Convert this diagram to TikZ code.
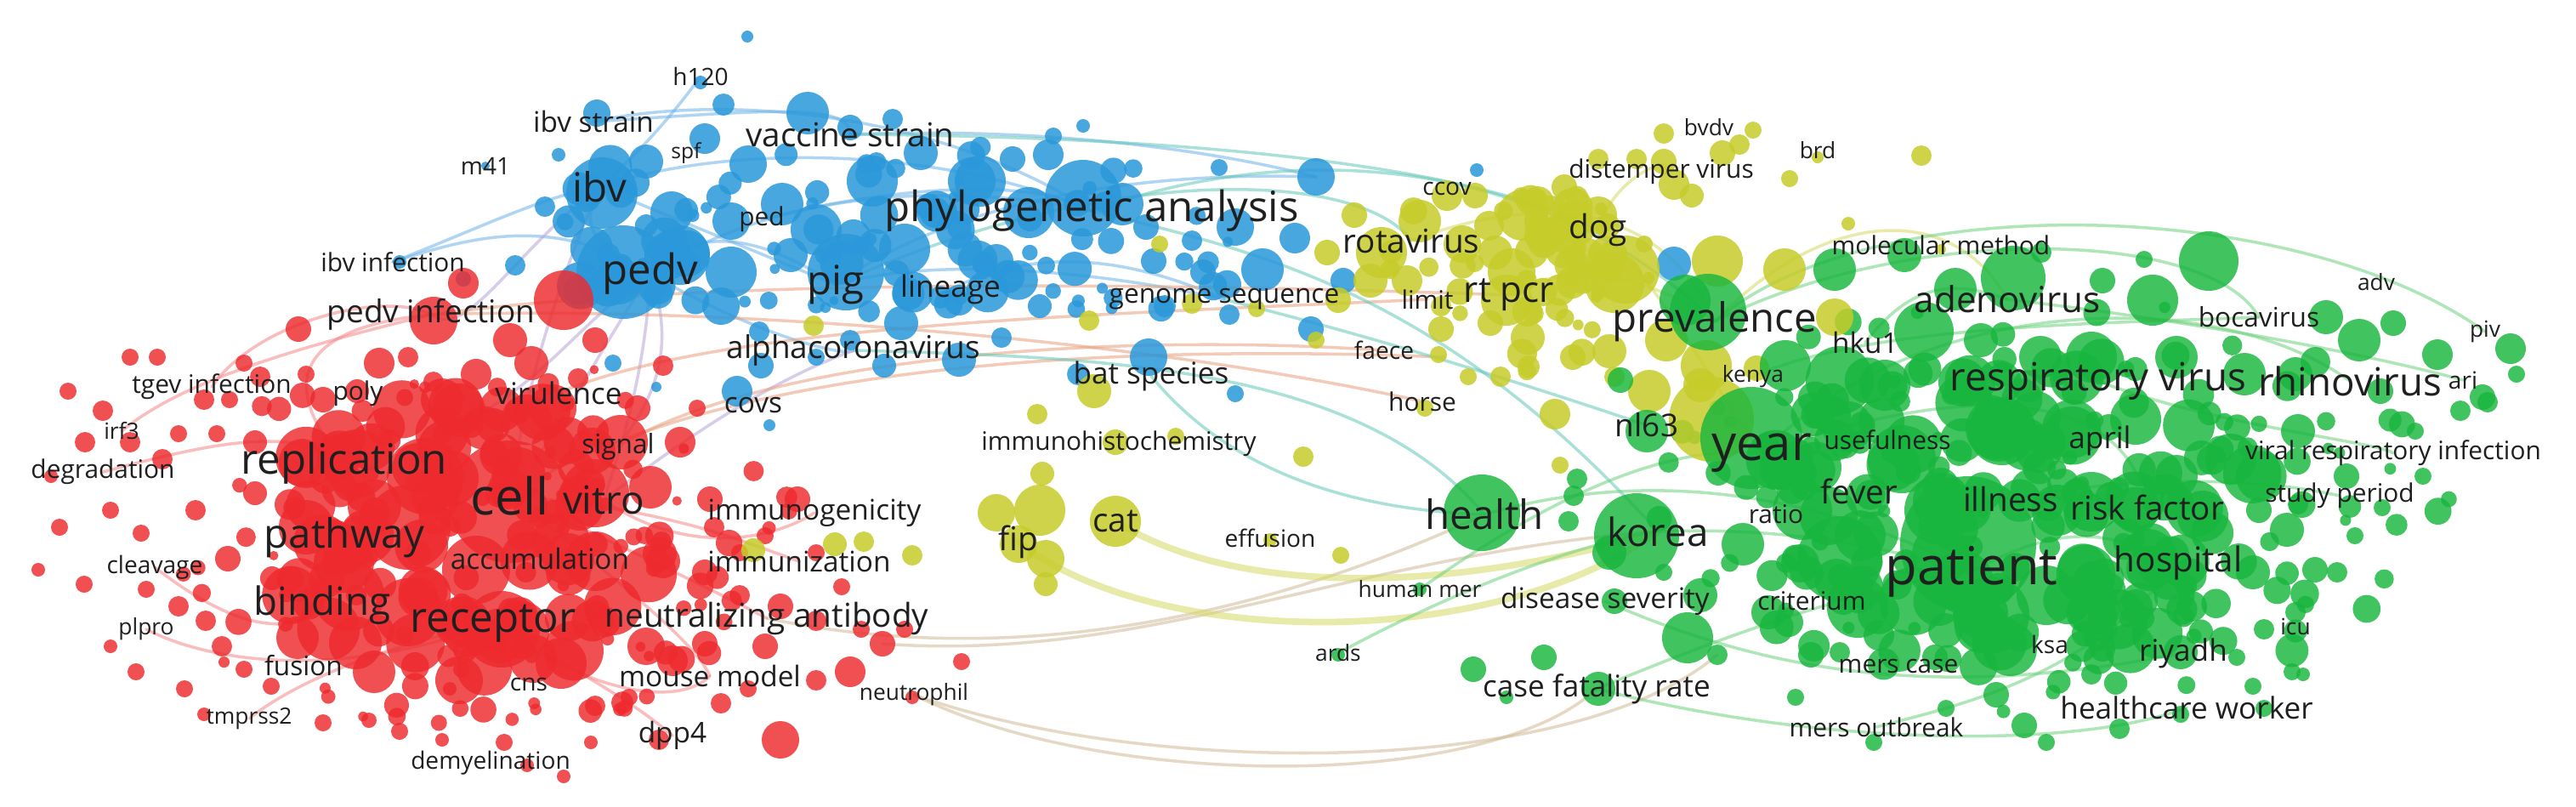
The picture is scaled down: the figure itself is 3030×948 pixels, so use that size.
\documentclass[tikz,border=0pt]{standalone}
\usepackage{fontspec}
\setmainfont{Open Sans}
\pgfdeclarelayer{bgwhite}
\pgfdeclarelayer{edges}
\pgfdeclarelayer{circles}
\pgfsetlayers{bgwhite,edges,circles,main}
\definecolor{cR}{RGB}{238,42,46}
\definecolor{cB}{RGB}{42,152,218}
\definecolor{cY}{RGB}{198,204,42}
\definecolor{cG}{RGB}{24,182,62}
\definecolor{eB}{RGB}{110,180,232}
\definecolor{eR}{RGB}{245,135,135}
\definecolor{eY}{RGB}{214,218,100}
\definecolor{eG}{RGB}{110,210,125}
\definecolor{eT}{RGB}{100,200,185}
\definecolor{eO}{RGB}{232,160,125}
\definecolor{eN}{RGB}{208,186,150}
\definecolor{eP}{RGB}{185,165,215}
\tikzset{
  lab/.style={font=\fontsize{#1}{#1}\selectfont, inner sep=0pt, text=black!88},
  rc/.style={fill=cR, fill opacity=0.82},
  bc/.style={fill=cB, fill opacity=0.85},
  yc/.style={fill=cY, fill opacity=0.85},
  gc/.style={fill=cG, fill opacity=0.82},
  edge/.style={line width=1pt, draw opacity=0.55, line cap=round},
  thick edge/.style={line width=2.2pt, draw opacity=0.55, line cap=round},
}
\newcommand\scatterfill[8]{% style, n, cx, cy, ax, ay, rmin, rspan
  \foreach \i in {1,...,#2}{
    \pgfmathsetmacro\aa{360*rnd}\pgfmathsetmacro\dd{sqrt(rnd)}
    \pgfmathsetmacro\xx{#3+#5*\dd*cos(\aa)}\pgfmathsetmacro\yy{#4+#6*\dd*sin(\aa)}
    \pgfmathsetmacro\rr{#7+#8*rnd}
    \fill[#1] (\xx,\yy) circle[radius=\rr];}}
\begin{document}
\begin{tikzpicture}[x=0.1mm,y=-0.1mm]
\useasboundingbox (0,0) rectangle (3030,948);
\begin{pgfonlayer}{bgwhite}
\fill[white] (0,0) rectangle (3030,948);
\end{pgfonlayer}

% ---------------- labels (blue cluster)
\node[lab=8]    (h120)    at (824,90)  {h120};
\node[lab=9.5]  (ibvstr)  at (698,143) {ibv strain};
\node[lab=7]    (spf)     at (807,180) {spf};
\node[lab=8]    (m41)     at (571,195) {m41};
\node[lab=13.5] (ibv)     at (705,220) {ibv};
\node[lab=11]   (vstrain) at (1000,158) {vaccine strain};
\node[lab=8.5]  (ped)     at (896,258) {ped};
\node[lab=14]   (phylo)   at (1284,248) {phylogenetic analysis};
\node[lab=8.5]  (ibvinf)  at (462,308) {ibv infection};
\node[lab=14]   (pedv)    at (765,322) {pedv};
\node[lab=13.5] (pig)     at (983,335) {pig};
\node[lab=10]   (lineage) at (1118,340) {lineage};
\node[lab=9]    (genome)  at (1440,352) {genome sequence};
\node[lab=10.5] (alpha)   at (1004,412) {alphacoronavirus};
\node[lab=9.5]  (covs)    at (886,477) {covs};
\node[lab=10]   (batsp)   at (1354,442) {bat species};
% red cluster
\node[lab=10.5] (pedvinf) at (507,370) {pedv infection};
\node[lab=8.5]  (tgev)    at (249,455) {tgev infection};
\node[lab=8.5]  (poly)    at (421,463) {poly};
\node[lab=10]   (virul)   at (657,462) {virulence};
\node[lab=7.5]  (irf3)    at (143,507) {irf3};
\node[lab=9]    (signal)  at (727,525) {signal};
\node[lab=8.5]  (degr)    at (121,555) {degradation};
\node[lab=14]   (replic)  at (405,545) {replication};
\node[lab=17]   (cell)    at (600,583) {cell};
\node[lab=13]   (vitro)   at (710,588) {vitro};
\node[lab=9.5]  (immgen)  at (958,603) {immunogenicity};
\node[lab=13.5] (pathway) at (405,632) {pathway};
\node[lab=8]    (cleav)   at (182,667) {cleavage};
\node[lab=9.5]  (accum)   at (635,657) {accumulation};
\node[lab=9.5]  (immzn)   at (940,660) {immunization};
\node[lab=13]   (binding) at (379,712) {binding};
\node[lab=7.5]  (plpro)   at (172,740) {plpro};
\node[lab=14]   (recept)  at (580,733) {receptor};
\node[lab=11]   (nab)     at (902,727) {neutralizing antibody};
\node[lab=9]    (fusion)  at (357,783) {fusion};
\node[lab=8]    (cns)     at (622,805) {cns};
\node[lab=9.5]  (mouse)   at (835,795) {mouse model};
\node[lab=7.5]  (neutro)  at (1075,817) {neutrophil};
\node[lab=7.5]  (tmprss)  at (293,845) {tmprss2};
\node[lab=9.5]  (dpp4)    at (791,865) {dpp4};
\node[lab=8]    (demy)    at (577,897) {demyelination};
% yellow cluster
\node[lab=7.5]  (bvdv)    at (2010,150) {bvdv};
\node[lab=8.5]  (distemp) at (1954,202) {distemper virus};
\node[lab=7.5]  (brd)     at (2138,177) {brd};
\node[lab=8]    (ccov)    at (1702,222) {ccov};
\node[lab=11]   (dog)     at (1880,270) {dog};
\node[lab=11]   (rota)    at (1660,283) {rotavirus};
\node[lab=8.5]  (limit)   at (1679,352) {limit};
\node[lab=12]   (rtpcr)   at (1775,347) {rt pcr};
\node[lab=8]    (faece)   at (1628,412) {faece};
\node[lab=8.5]  (horse)   at (1673,472) {horse};
\node[lab=8.5]  (ihc)     at (1316,522) {immunohistochemistry};
\node[lab=11]   (fip)     at (1198,637) {fip};
\node[lab=11]   (cat)     at (1312,613) {cat};
\node[lab=8]    (effus)   at (1494,633) {effusion};
% green cluster
\node[lab=13.5] (preval)  at (2017,378) {prevalence};
\node[lab=8.5]  (molmeth) at (2283,288) {molecular method};
\node[lab=12]   (adeno)   at (2361,352) {adenovirus};
\node[lab=9.5]  (hku1)    at (2194,403) {hku1};
\node[lab=9]    (boca)    at (2657,373) {bocavirus};
\node[lab=7.5]  (adv)     at (2795,332) {adv};
\node[lab=7.5]  (piv)     at (2923,390) {piv};
\node[lab=8]    (ari)     at (2897,447) {ari};
\node[lab=7.5]  (kenya)   at (2062,443) {kenya};
\node[lab=13]   (respvir) at (2468,448) {respiratory virus};
\node[lab=13]   (rhino)   at (2764,448) {rhinovirus};
\node[lab=10.5] (nl63)    at (1937,500) {nl63};
\node[lab=16.5] (year)    at (2072,533) {year};
\node[lab=8.5]  (useful)  at (2220,517) {usefulness};
\node[lab=10]   (april)   at (2470,518) {april};
\node[lab=8.5]  (vri)     at (2815,533) {viral respiratory infection};
\node[lab=11]   (fever)   at (2187,578) {fever};
\node[lab=11]   (illness) at (2365,587) {illness};
\node[lab=8.5]  (ratio)   at (2089,605) {ratio};
\node[lab=11]   (riskf)   at (2526,597) {risk factor};
\node[lab=8.5]  (studyp)  at (2752,583) {study period};
\node[lab=13.5] (health)  at (1746,605) {health};
\node[lab=13]   (korea)   at (1950,625) {korea};
\node[lab=17.5] (patient) at (2319,672) {patient};
\node[lab=11.5] (hosp)    at (2562,662) {hospital};
\node[lab=7.5]  (humanm)  at (1670,693) {human mer};
\node[lab=9.5]  (disease) at (1888,707) {disease severity};
\node[lab=8.5]  (criter)  at (2131,707) {criterium};
\node[lab=7.5]  (icu)     at (2700,737) {icu};
\node[lab=8]    (ksa)     at (2411,758) {ksa};
\node[lab=10]   (riyadh)  at (2568,768) {riyadh};
\node[lab=7.5]  (ards)    at (1574,768) {ards};
\node[lab=8.5]  (merscase) at (2233,783) {mers case};
\node[lab=10]   (casefat) at (1878,810) {case fatality rate};
\node[lab=10]   (hcw)     at (2572,832) {healthcare worker};
\node[lab=8.5]  (mersout) at (2207,855) {mers outbreak};

\coordinate (bR) at (1548,208);
\coordinate (oE) at (1700,420);
\coordinate (rN) at (1038,757);
\coordinate (gS) at (2020,770);

% ---------------- circles
\begin{pgfonlayer}{circles}
\pgfmathsetseed{7}
% random fillers
\scatterfill{rc}{110}{560}{640}{390}{220}{5}{11}
\scatterfill{bc}{60}{1080}{280}{430}{120}{5}{12}
\scatterfill{yc}{30}{1790}{320}{160}{120}{6}{12}
\scatterfill{gc}{140}{2420}{590}{470}{250}{6}{14}
% dense cores
\scatterfill{rc}{90}{550}{630}{230}{165}{15}{22}
\scatterfill{bc}{22}{730}{280}{85}{85}{12}{16}
\scatterfill{bc}{22}{1120}{285}{170}{65}{10}{16}
\scatterfill{yc}{18}{1825}{300}{85}{75}{12}{14}
\scatterfill{gc}{110}{2370}{600}{300}{190}{15}{22}
% blue
\foreach \x/\y/\rr in {879/43/7,824/97/8,702/133/16,851/123/13,950/133/25,829/163/18,880/193/22,657/182/8,571/195/5,
 708/227/42,760/190/20,641/243/12,790/250/25,860/260/22,920/240/25,733/320/55,800/300/35,860/320/30,606/312/12,
 545/328/9,470/308/8,848/360/22,893/390/12,721/427/10,772/455/6,867/460/18,895/430/15,905/500/7,995/320/45,
 960/270/30,1026/213/30,1083/180/20,1143/213/28,1153/213/30,1191/187/15,1233/182/18,1239/160/10,1274/148/8,
 1274/233/45,1210/250/30,1320/240/25,1064/293/30,1172/307/20,1128/353/18,1223/360/14,1178/397/12,1128/423/20,
 1060/380/20,1040/430/14,1348/267/15,1357/307/15,1402/283/12,1434/197/10,1453/267/22,1523/280/18,1485/317/25,
 1415/320/15,1370/360/13,1446/370/12,1548/208/22,1542/387/15,1351/420/22,1268/440/13,1453/463/10,1580/330/15,
 1737/200/8,1969/310/20,1000/150/15,1050/140/12,1100/250/18,930/300/20,1000/400/12,960/420/10}
  \fill[bc] (\x,\y) circle[radius=\rr];
% red
\foreach \x/\y/\rr in {600/590/72,480/620/50,420/545/40,500/560/45,410/700/42,480/720/40,590/740/45,700/580/40,
 730/520/32,650/480/28,360/620/32,700/660/35,520/470/25,350/750/25,660/780/30,760/760/22,540/800/28,440/790/25,
 780/660/20,560/670/40,663/353/35,545/333/18,510/377/28,600/400/20,625/427/20,446/427/18,351/387/15,700/400/15,
 560/440/18,153/420/10,185/420/10,287/427/10,306/443/12,99/687/10,217/810/10,287/787/10,434/847/9,529/810/8,
 593/873/10,663/913/8,695/873/8,775/870/12,918/870/22,848/827/12,791/777/18,829/757/15,918/713/15,829/673/15,
 938/587/15,835/587/15,778/637/12,765/573/25,166/627/10,153/520/12,191/540/12,121/483/12,210/510/10,255/510/10,
 268/657/15,210/713/12,242/730/12,172/693/10,261/760/12,319/807/10,1000/790/18,1038/757/15,1064/740/10,
 1131/778/10,1073/820/8,1013/740/10,900/760/15,960/730/12,870/700/12,990/690/10,80/460/10,100/520/12,60/560/8,
 70/620/10,45/670/8,130/600/10,230/600/12,300/580/14,320/680/14,300/520/14,240/470/12,270/470/10,380/470/15,
 420/460/14,480/420/12,360/440/10,130/760/8,160/790/10,240/840/8,380/850/10,470/860/10,520/870/8,620/900/8,
 700/830/12,740/820/10,880/810/10,960/800/12,840/620/12,870/650/10,900/630/10,960/650/10,750/480/15,780/430/12,
 680/445/12,580/500/20,800/520/18,820/480/10}
  \fill[rc] (\x,\y) circle[radius=\rr];
% yellow
\foreach \x/\y/\rr in {1223/600/30,1172/603/22,1198/640/22,1226/557/14,1230/657/22,1230/687/14,1312/613/30,
 1220/487/12,1287/460/20,1312/520/15,1383/513/10,1533/537/12,1494/635/8,1577/653/10,1829/487/18,1835/547/10,
 1016/637/12,1073/653/12,886/647/14,982/640/14,1676/480/10,1593/253/15,1625/297/30,1670/260/25,1702/230/18,
 1720/287/22,1759/297/20,1791/253/30,1823/260/30,1880/253/22,1867/300/20,1778/320/28,1772/353/30,1899/333/35,
 1912/317/40,1797/397/20,1753/380/15,1695/387/15,1692/417/10,1727/443/10,1765/443/12,1574/353/15,1612/330/20,
 1561/297/15,1281/377/12,1402/357/12,1364/287/10,1478/363/10,1548/400/10,1695/360/12,1934/287/10,1957/157/12,
 1925/187/12,1957/190/15,1880/187/12,1969/217/18,1893/413/20,1899/443/12,2062/153/10,2046/170/12,2026/180/15,
 2105/210/10,2138/185/7,2260/183/12,2174/263/8,2020/307/30,2099/317/25,2158/373/22,2007/430/30,2283/293/6,
 2066/433/15,2000/453/20,2013/493/50,1940/460/25,1960/400/25,1850/420/15,1655/330/18,1735/230/15,1840/220/15,
 1990/230/14,957/383/12}
  \fill[yc] (\x,\y) circle[radius=\rr];
% green
\foreach \x/\y/\rr in {2009/367/45,2158/317/25,2368/327/38,2598/307/35,2532/353/30,2473/330/15,2522/305/10,
 2401/297/12,2736/373/20,2815/380/15,2775/400/25,2953/410/18,2867/417/18,2920/467/15,2263/390/35,2164/447/40,
 2217/453/30,2060/515/60,2315/640/80,2355/507/40,2237/540/40,2164/657/50,2250/707/40,2342/723/45,2407/700/35,
 2460/590/35,2526/657/35,2591/607/30,2624/540/30,2394/490/30,2512/493/30,2690/623/20,2703/507/20,2650/673/20,
 2723/670/15,2749/673/12,2512/713/20,2578/713/18,2473/763/15,2565/767/20,2631/773/10,2696/790/10,2663/740/12,
 2276/773/15,2210/747/18,2164/767/12,2020/770/12,2112/820/10,2204/873/10,2289/833/10,2348/817/15,2381/853/15,
 2407/873/10,2493/857/12,2650/807/10,2663/833/10,2565/840/10,2460/793/12,2709/793/8,2841/507/10,2894/483/12,
 2926/473/12,2802/597/10,2703/593/12,2657/600/15,1743/603/45,1925/630/50,1937/507/25,1855/563/12,1851/583/12,
 1845/613/12,1985/750/30,1899/707/15,1816/773/15,1733/787/15,1880/810/20,1772/820/8,1670/693/8,1574/770/8,
 1957/673/10,1893/650/20,1982/353/30,1906/447/15,2100/430/30,2120/600/35,2050/640/25,2000/700/20,2080/720/20,
 2130/770/15,2280/600/40,2420/600/30,2460/420/30,2560/420/25,2640/440/25,2700/440/20,2560/560/25,2330/400/20,
 2240/300/20,2300/340/25,2400/420/25,2190/690/25,2700/720/12,2760/560/15,2800/460/15,2850/560/10,2960/440/10,
 2770/630/10}
  \fill[gc] (\x,\y) circle[radius=\rr];
\end{pgfonlayer}

% ---------------- edges
\begin{pgfonlayer}{edges}
% blue
\draw[edge,eB] (ibv.center) .. controls (850,170) and (1100,170) .. (phylo.center);
\draw[edge,eB] (pedv.center) .. controls (900,230) and (1100,210) .. (phylo.center);
\draw[edge,eB] (ibvstr.center) .. controls (850,110) and (1100,130) .. (phylo.center);
\draw[edge,eB] (pedv.center) .. controls (820,260) and (900,280) .. (pig.center);
\draw[edge,eB] (ibv.center) .. controls (800,260) and (900,300) .. (pig.center);
\draw[edge,eB] (ibvinf.center) .. controls (550,280) and (650,250) .. (pedv.center);
\draw[edge,eB] (ibvinf.center) .. controls (560,270) and (640,230) .. (ibv.center);
\draw[edge,eB] (ibvstr.center) .. controls (900,130) and (1000,120) .. (vstrain.center);
\draw[edge,eB] (ped.center) .. controls (1000,230) and (1200,200) .. (phylo.center);
\draw[edge,eB] (pig.center) .. controls (1100,300) and (1300,320) .. (genome.center);
\draw[edge,eB] (pedv.center) .. controls (900,400) and (1000,420) .. (alpha.center);
\draw[edge,eB] (pig.center) .. controls (1100,250) and (1300,200) .. (bR);
\draw[edge,eB] (vstrain.center) .. controls (1200,150) and (1400,170) .. (bR);
\draw[edge,eB] (ibv.center) .. controls (680,270) and (700,290) .. (pedv.center);
\draw[edge,eB] (h120.center) .. controls (780,150) and (740,190) .. (ibv.center);
\draw[edge,eB] (lineage.center) .. controls (1200,300) and (1300,290) .. (genome.center);
% blue-red
\draw[edge,eP] (pedv.center) .. controls (700,420) and (650,520) .. (cell.center);
\draw[edge,eP] (pedv.center) .. controls (760,420) and (740,500) .. (vitro.center);
\draw[edge,eP] (ibv.center) .. controls (650,350) and (620,450) .. (cell.center);
\draw[edge,eP] (pedv.center) .. controls (650,400) and (620,500) .. (replic.center);
\draw[edge,eP] (pedv.center) .. controls (800,420) and (760,480) .. (signal.center);
\draw[edge,eP] (ibv.center) .. controls (600,300) and (550,400) .. (pedvinf.center);
\draw[edge,eP] (alpha.center) .. controls (900,450) and (800,520) .. (vitro.center);
% red
\draw[edge,eR] (tgev.center) .. controls (300,380) and (450,340) .. (pedvinf.center);
\draw[edge,eR] (degr.center) .. controls (250,520) and (350,500) .. (replic.center);
\draw[edge,eR] (cleav.center) .. controls (250,720) and (330,760) .. (binding.center);
\draw[edge,eR] (plpro.center) .. controls (250,780) and (400,800) .. (recept.center);
\draw[edge,eR] (tmprss.center) .. controls (350,800) and (450,760) .. (recept.center);
\draw[edge,eR] (replic.center) .. controls (300,420) and (400,380) .. (pedvinf.center);
\draw[edge,eR] (cell.center) .. controls (750,650) and (850,700) .. (nab.center);
\draw[edge,eR] (recept.center) .. controls (700,800) and (750,830) .. (dpp4.center);
\draw[edge,eR] (vitro.center) .. controls (800,650) and (900,640) .. (immgen.center);
\draw[edge,eR] (cell.center) .. controls (750,700) and (820,760) .. (mouse.center);
\draw[edge,eR] (recept.center) .. controls (700,820) and (800,830) .. (mouse.center);
\draw[edge,eR] (pedvinf.center) .. controls (300,420) and (200,460) .. (irf3.center);
\draw[edge,eR] (cell.center) .. controls (800,600) and (880,640) .. (immzn.center);
% red-yellow/green across the middle
\draw[edge,eO] (pedvinf.center) .. controls (800,330) and (1300,330) .. (rtpcr.center);
\draw[edge,eO] (virul.center) .. controls (850,380) and (1300,370) .. (limit.center);
\draw[edge,eO] (signal.center) .. controls (900,420) and (1300,390) .. (faece.center);
\draw[edge,eO] (cell.center) .. controls (800,450) and (1200,400) .. (oE);
\draw[edge,eO] (pedvinf.center) .. controls (800,360) and (1300,390) .. (horse.center);
% blue-yellow/green
\draw[edge,eT] (phylo.center) .. controls (1500,170) and (1800,170) .. (preval.center);
\draw[edge,eT] (vstrain.center) .. controls (1300,160) and (1700,180) .. (dog.center);
\draw[edge,eT] (batsp.center) .. controls (1450,560) and (1600,600) .. (health.center);
\draw[edge,eT] (genome.center) .. controls (1550,380) and (1700,420) .. (nl63.center);
\draw[edge,eT] (pig.center) .. controls (1300,190) and (1600,200) .. (rota.center);
\draw[edge,eT] (phylo.center) .. controls (1500,300) and (1700,350) .. (korea.center);
\draw[edge,eT] (alpha.center) .. controls (1300,420) and (1600,430) .. (health.center);
% red-green long curves
\draw[edge,eN] (neutro.center) .. controls (1300,930) and (1750,930) .. (casefat.center);
\draw[edge,eN] (neutro.center) .. controls (1350,915) and (1850,915) .. (gS);
\draw[edge,eN] (nab.center) .. controls (1200,790) and (1500,720) .. (health.center);
\draw[edge,eN] (rN) .. controls (1350,780) and (1600,650) .. (korea.center);
% yellow
\draw[thick edge,eY] (fip.center) .. controls (1350,760) and (1750,770) .. (korea.center);
\draw[thick edge,eY] (cat.center) .. controls (1450,700) and (1700,700) .. (korea.center);
\draw[edge,eY] (dog.center) .. controls (1900,200) and (1980,180) .. (distemp.center);
\draw[edge,eY] (rtpcr.center) .. controls (1850,300) and (1950,330) .. (preval.center);
\draw[edge,eY] (rota.center) .. controls (1800,230) and (1950,230) .. (preval.center);
\draw[edge,eY] (preval.center) .. controls (2150,240) and (2300,240) .. (adeno.center);
\draw[edge,eY] (dog.center) .. controls (1950,330) and (2000,430) .. (year.center);
% green
\draw[edge,eG] (preval.center) .. controls (2200,220) and (2700,230) .. (piv.center);
\draw[edge,eG] (preval.center) .. controls (2250,260) and (2600,270) .. (boca.center);
\draw[edge,eG] (year.center) .. controls (2250,350) and (2600,330) .. (rhino.center);
\draw[edge,eG] (health.center) .. controls (1900,560) and (2100,560) .. (patient.center);
\draw[edge,eG] (korea.center) .. controls (2100,620) and (2200,640) .. (patient.center);
\draw[edge,eG] (casefat.center) .. controls (2150,880) and (2450,880) .. (hcw.center);
\draw[edge,eG] (disease.center) .. controls (2100,800) and (2300,820) .. (riyadh.center);
\draw[edge,eG] (casefat.center) .. controls (2000,760) and (2150,700) .. (patient.center);
\draw[edge,eG] (adeno.center) .. controls (2600,380) and (2800,420) .. (ari.center);
\draw[edge,eG] (respvir.center) .. controls (2600,500) and (2800,520) .. (vri.center);
\draw[edge,eG] (humanm.center) .. controls (1800,600) and (1950,520) .. (year.center);
\draw[edge,eG] (hku1.center) .. controls (2250,330) and (2300,330) .. (adeno.center);
\draw[edge,eG] (patient.center) .. controls (2450,600) and (2500,640) .. (hosp.center);
\draw[edge,eG] (year.center) .. controls (2300,450) and (2500,450) .. (riskf.center);
\draw[edge,eG] (kenya.center) .. controls (2200,380) and (2500,380) .. (boca.center);
\draw[edge,eG] (illness.center) .. controls (2500,560) and (2650,560) .. (studyp.center);
\draw[edge,eG] (mersout.center) .. controls (2300,830) and (2450,800) .. (hosp.center);
\draw[edge,eG] (ards.center) .. controls (1700,700) and (1850,640) .. (korea.center);
\end{pgfonlayer}
\end{tikzpicture}
\end{document}
